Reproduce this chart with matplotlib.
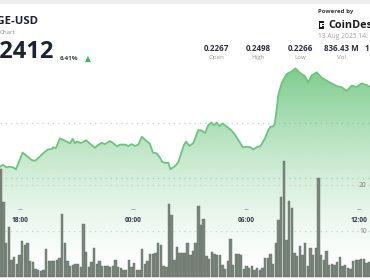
import numpy as np
import matplotlib
matplotlib.use('Agg')
import matplotlib.pyplot as plt
from matplotlib.patches import Rectangle
from matplotlib.transforms import blended_transform_factory

# ---------------- data ----------------
# hours counted from 12:00 of the previous day (18:00 -> 6, 00:00 -> 12, ...)
price_hours = [4.94, 5.10, 5.29, 5.43, 5.64, 5.79, 6.14, 6.36, 6.62, 6.80, 7.06, 7.33, 7.50, 7.68,
               7.77, 7.91, 8.12, 8.39, 8.66, 8.80, 8.92, 9.04, 9.19, 9.33, 9.51, 9.72, 9.98, 10.14,
               10.34, 10.51, 10.78, 10.96, 11.14, 11.31, 11.58, 11.75, 11.93, 12.11, 12.28, 12.48,
               12.69, 12.90, 13.06, 13.26, 13.44, 13.54, 13.75, 13.88, 13.99, 14.23, 14.41, 14.59,
               14.71, 14.82, 14.99, 15.20, 15.47, 15.65, 15.83, 16.00, 16.18, 16.30, 16.45, 16.59,
               16.77, 16.98, 17.24, 17.42, 17.65, 17.83, 18.04, 18.22, 18.39, 18.57, 18.78, 19.01,
               19.19, 19.31, 19.45, 19.54, 19.72, 19.90, 20.16, 20.43, 20.63, 20.87, 21.14, 21.31,
               21.49, 21.76, 22.02, 22.29, 22.55, 22.82, 23.09, 23.35, 23.62, 23.88, 24.15, 24.41,
               24.59]
price_values = [0.2276, 0.2280, 0.2274, 0.2276, 0.2274, 0.2270, 0.2308, 0.2300, 0.2291, 0.2289,
                0.2299, 0.2310, 0.2315, 0.2316, 0.2320, 0.2318, 0.2340, 0.2335, 0.2329, 0.2339,
                0.2329, 0.2333, 0.2330, 0.2331, 0.2336, 0.2328, 0.2319, 0.2325, 0.2330, 0.2327,
                0.2334, 0.2329, 0.2322, 0.2326, 0.2326, 0.2323, 0.2327, 0.2323, 0.2326, 0.2344,
                0.2335, 0.2328, 0.2308, 0.2306, 0.2296, 0.2287, 0.2284, 0.2285, 0.2270, 0.2277,
                0.2286, 0.2310, 0.2325, 0.2333, 0.2323, 0.2329, 0.2359, 0.2358, 0.2352, 0.2370,
                0.2376, 0.2370, 0.2376, 0.2368, 0.2374, 0.2367, 0.2358, 0.2348, 0.2333, 0.2320,
                0.2321, 0.2320, 0.2315, 0.2320, 0.2323, 0.2340, 0.2359, 0.2367, 0.2367, 0.2374,
                0.2439, 0.2466, 0.2486, 0.2492, 0.2499, 0.2489, 0.2481, 0.2467, 0.2483, 0.2490,
                0.2478, 0.2471, 0.2465, 0.2459, 0.2456, 0.2448, 0.2460, 0.2457, 0.2465, 0.2461,
                0.2457]
# volume (millions), one bar per interval, left to right
volume_values = [23.4, 16.4, 7.4, 10.8, 3.6, 4.3, 2.9, 4.7, 7.9, 7.0, 7.3, 3.4, 3.2, 1.8, 1.5,
                 1.3, 1.5, 6.0, 3.4, 3.4, 3.5, 3.6, 4.2, 13.8, 7.5, 3.4, 2.4, 2.6, 2.8, 2.8, 2.1,
                 11.6, 5.4, 2.1, 3.3, 6.3, 2.9, 3.5, 2.4, 2.3, 2.3, 2.2, 2.3, 3.8, 2.1, 1.9, 1.6,
                 1.5, 3.6, 2.1, 3.1, 1.6, 1.5, 6.0, 2.8, 3.5, 5.0, 5.0, 5.3, 7.3, 7.0, 2.4, 2.2,
                 15.8, 13.5, 3.6, 6.5, 5.3, 5.3, 5.3, 7.3, 4.9, 5.6, 7.5, 15.4, 11.4, 12.7, 4.5,
                 4.0, 5.4, 5.0, 4.9, 4.9, 2.6, 1.7, 3.5, 8.3, 2.6, 5.1, 5.0, 4.9, 1.7, 2.3, 2.0,
                 2.3, 1.6, 1.9, 1.5, 1.9, 4.2, 4.2, 5.0, 2.8, 7.4, 12.3, 17.3, 25.3, 8.1, 16.6,
                 15.0, 5.3, 4.5, 6.7, 4.9, 7.4, 2.4, 6.4, 4.9, 6.4, 21.6, 4.9, 3.6, 5.6, 2.6, 2.8,
                 2.6, 3.3, 4.3, 2.4, 2.6, 1.9, 1.7, 3.5, 3.6, 3.8, 4.0, 4.0, 3.1, 3.3]
bar_first_hour = 4.99
bar_step_minutes = 8.5

time_tick_hours = [6, 12, 18, 24]
time_tick_labels = ["18:00", "00:00", "06:00", "12:00"]
price_grid = [0.2250, 0.2375]
volume_ticks = [20, 10]
volume_tick_labels = ["20", "10"]

symbol = "DOGE-USD"
subtitle = "Chart"
last_price = "0.2412"
change_pct = "6.41%"
stat_values = ["0.2267", "0.2498", "0.2266", "836.43 M", "1"]
stat_labels = ["Open", "High", "Low", "Vol", ""]
powered = "Powered by"
brand = "CoinDesk"
stamp = "13 Aug 2025 14:"

# ---------------- figure ----------------
W, H = 370, 280
fig = plt.figure(figsize=(W / 100, H / 100), dpi=100)
fig.patch.set_facecolor('white')

def fx(x):
    return x / W

def fy(y):
    return 1 - y / H

XMIN, XMAX = 4.94, 24.59
PMIN, PMAX = 0.20186, 0.26542
VMIN, VMAX = -0.64, 60.2

ax = fig.add_axes([0, 0, 1, 1])
ax.set_xlim(XMIN, XMAX)
ax.set_ylim(PMIN, PMAX)
ax.axis('off')

# gradient fill below the price line
green = np.array([76, 184, 98]) / 255.0
N = 400
levels = np.linspace(PMIN, PMAX, N)
top = max(price_values)
frac = np.clip((levels - PMIN) / (top - PMIN), 0, 1)
alpha = 0.72 * frac ** 1.5
grad = np.zeros((N, 2, 4))
grad[:, :, :3] = green
grad[:, :, 3] = alpha[:, None]
poly = ax.fill_between(price_hours, price_values, PMIN, color='none', lw=0)
im = ax.imshow(grad, extent=[XMIN, XMAX, PMIN, PMAX], aspect='auto', origin='lower',
               interpolation='bilinear', zorder=1)
im.set_clip_path(poly.get_paths()[0], transform=ax.transData)
ax.set_xlim(XMIN, XMAX)
ax.set_ylim(PMIN, PMAX)

for g in price_grid:
    ax.axhline(g, color='#cfcfcf', lw=0.9, linestyle=(0, (1, 3.2)), zorder=0.5)

ax.plot(price_hours, price_values, color='#6cc47e', lw=1.3, zorder=3,
        solid_joinstyle='round')

# volume bars
axv = fig.add_axes([0, 0, 1, 1], label='volume')
axv.set_xlim(XMIN, XMAX)
axv.set_ylim(VMIN, VMAX)
axv.axis('off')
axv.patch.set_visible(False)
step_h = bar_step_minutes / 60.0
bar_hours = bar_first_hour + step_h * np.arange(len(volume_values))
for v in volume_ticks:
    axv.axhline(v, color='#cfcfcf', lw=0.9, linestyle=(0, (1, 3.2)), zorder=0.5)
axv.bar(bar_hours, volume_values, width=step_h * 0.88, bottom=0, color='#7c887d',
        edgecolor='#5f6a60', linewidth=0.3, zorder=2)

font = 'Open Sans'
tx = blended_transform_factory(axv.transData, fig.transFigure)
for h, lab in zip(time_tick_hours, time_tick_labels):
    axv.text(h, fy(220), lab, transform=tx, ha='center', va='center', fontsize=4.8,
             fontweight='bold', color='#2e3445', family=font, zorder=5)
    axv.plot([h], [fy(209)], transform=tx, marker='_', markersize=2.5, color='#9a9a9a',
             mew=0.6, zorder=5)

ty = blended_transform_factory(fig.transFigure, axv.transData)
for v, lab in zip(volume_ticks, volume_tick_labels):
    axv.text(fx(359), v, lab, transform=ty, ha='left', va='center', fontsize=4.8,
             color='#7a7a7a', family=font, zorder=5)

# ---------------- header ----------------
fig.patches.append(Rectangle((0, fy(4)), 1, 4 / H, transform=fig.transFigure,
                             facecolor='#eeeeee', edgecolor='none'))

fig.text(fx(38), fy(22), symbol, ha='right', va='center', fontsize=8.2, fontweight='bold',
         color='#1b2232', family=font)
fig.text(fx(-0.5), fy(32), subtitle, ha='left', va='center', fontsize=4.4, color='#8a8a8a',
         family=font)
fig.text(fx(53.5), fy(51.5), last_price, ha='right', va='center', fontsize=17,
         fontweight='bold', color='#1b2232', family=font)
fig.text(fx(60), fy(58.5), change_pct, ha='left', va='center', fontsize=4.6,
         fontweight='bold', color='#3a4150', family=font)
fig.text(fx(87.5), fy(58.3), '\u25B2', ha='center', va='center', fontsize=5.5,
         color='#3db55b', family='DejaVu Sans')

stat_x = [216.5, 258, 300, 341.5, 365]
for xv, val, lab in zip(stat_x, stat_values, stat_labels):
    ha = 'left' if xv > 360 else 'center'
    fig.text(fx(xv), fy(48), val, ha=ha, va='center', fontsize=5.8, fontweight='bold',
             color='#2b3142', family=font)
    if lab:
        fig.text(fx(xv), fy(57.5), lab, ha='center', va='center', fontsize=4.5,
                 color='#9a9a9a', family=font)

fig.text(fx(318), fy(11), powered, ha='left', va='center', fontsize=4.4, fontweight='bold',
         color='#3a3a3a', family=font)
# logo mark
for (lx, ly, lw_, lh) in [(318.5, 21, 1.6, 8), (318.5, 21, 5, 1.6), (318.5, 27.4, 5, 1.6),
                          (322, 23.5, 1.6, 1.6), (322, 25.5, 1.6, 1.6)]:
    fig.patches.append(Rectangle((fx(lx), fy(ly + lh)), lw_ / W, lh / H,
                                 transform=fig.transFigure, facecolor='#1a1a1a',
                                 edgecolor='none'))
fig.text(fx(328), fy(25), brand, ha='left', va='center', fontsize=7.8, fontweight='bold',
         color='#1a1a1a', family=font)
fig.text(fx(318), fy(36.5), stamp, ha='left', va='center', fontsize=4.8, color='#a0a0a0',
         family=font)

fig.savefig('out.png', dpi=100, facecolor='white')
